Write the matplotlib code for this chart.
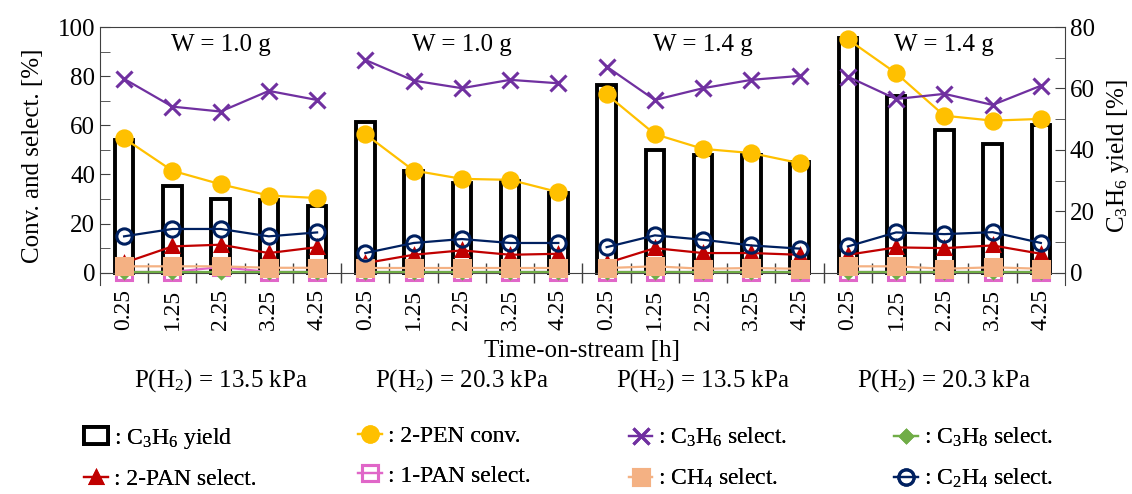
import matplotlib
matplotlib.use("Agg")
import matplotlib.pyplot as plt
from matplotlib.lines import Line2D
from matplotlib.patches import Patch
from matplotlib.ticker import FixedLocator

plt.rcParams['font.family'] = ['Liberation Serif', 'DejaVu Serif']
plt.rcParams['mathtext.fontset'] = 'custom'
plt.rcParams['mathtext.rm'] = 'Liberation Serif'
plt.rcParams['mathtext.it'] = 'Liberation Serif:italic'

# time-on-stream points, 5 per condition, 4 conditions
tos = ['0.25', '1.25', '2.25', '3.25', '4.25']
weights = ['W = 1.0 g', 'W = 1.0 g', 'W = 1.4 g', 'W = 1.4 g']
pressures = [r'P(H$_2$) = 13.5 kPa', r'P(H$_2$) = 20.3 kPa',
             r'P(H$_2$) = 13.5 kPa', r'P(H$_2$) = 20.3 kPa']

# right axis: C3H6 yield [%]
c3h6_yield = [43.3, 28.3, 24.0, 23.7, 21.6,
              49.2, 33.0, 29.2, 29.7, 25.9,
              61.1, 39.8, 38.3, 38.3, 36.2,
              76.3, 57.7, 46.5, 42.0, 48.0]
# left axis: conversion / selectivities [%]
pen_conv = [54.7, 41.5, 36.0, 31.4, 30.4,
            56.4, 41.6, 38.2, 37.8, 32.8,
            72.6, 56.4, 50.4, 48.7, 44.6,
            95.0, 81.2, 63.9, 61.9, 62.6]
c3h6_sel = [78.9, 67.6, 65.6, 74.0, 70.3,
            86.6, 78.2, 75.1, 78.5, 77.1,
            83.9, 70.3, 75.1, 78.5, 80.1,
            79.8, 70.7, 72.8, 68.3, 76.1]
c3h8_sel = [0.2] * 20
pan2_sel = [4.0, 10.7, 11.4, 8.0, 10.4,
            3.9, 7.3, 9.1, 7.3, 7.7,
            3.9, 10.0, 8.0, 8.0, 7.3,
            7.3, 10.3, 10.0, 11.1, 7.7]
pan1_sel = [0.3, 0.3, 2.3, 0.3, 0.3,
            0.3, 0.3, 0.3, 0.3, 0.3,
            0.3, 0.3, 0.3, 0.3, 0.3,
            0.3, 0.3, 0.3, 0.3, 0.3]
ch4_sel = [2.6, 2.6, 2.6, 2.0, 2.0,
           1.9, 1.9, 1.9, 1.9, 1.9,
           1.9, 2.6, 1.6, 1.9, 1.6,
           2.6, 2.6, 1.6, 2.2, 1.6]
c2h4_sel = [14.8, 17.8, 17.8, 14.8, 16.4,
            8.0, 12.1, 13.7, 12.1, 12.1,
            10.4, 15.2, 13.4, 11.1, 9.8,
            10.7, 16.4, 15.7, 16.5, 12.1]

xpos = list(range(20))

fig = plt.figure(figsize=(11.32, 4.94), dpi=100)
ax = fig.add_axes([0.0883, 0.4231, 0.8525, 0.5222])
ax2 = ax.twinx()

ax2.bar(xpos, c3h6_yield, width=0.38, facecolor='white', edgecolor='black', linewidth=2.8)

# style for each line series: (data, color, marker, size, face, zorder)
series = [
    (pan1_sel, '#E066C8', 's', 11, 'none', 3),
    (c3h8_sel, '#70AD47', 'D', 6, '#70AD47', 4),
    (pan2_sel, '#C00000', '^', 9, '#C00000', 5),
    (ch4_sel, '#F4B183', 's', 11, '#F4B183', 6),
    (c2h4_sel, '#002060', 'o', 11, 'none', 7),
    (pen_conv, '#FFC000', 'o', 11, '#FFC000', 8),
    (c3h6_sel, '#7030A0', 'x', 11, '#7030A0', 9),
]
for data, col, mk, ms, mfc, z in series:
    for g in range(4):
        sl = slice(g * 5, g * 5 + 5)
        ax.plot(xpos[sl], data[sl], color=col, lw=1.6, marker=mk, ms=ms,
                mfc=mfc, mec=col, mew=2.2, zorder=z)

ax.set_zorder(ax2.get_zorder() + 1)
ax.patch.set_visible(False)

ax.set_xlim(-0.5, 19.5)
ax.set_ylim(-5, 100)
ax2.set_ylim(-4, 80)

ax.spines['bottom'].set_position(('data', 0))
for sp in ax.spines.values():
    sp.set_color('#404040')
ax.set_xticks(xpos)
ax.set_xticklabels(tos * 4, rotation=90, fontsize=17)
ax.xaxis.set_minor_locator(FixedLocator([i + 0.5 for i in range(19)]))
ax.tick_params(axis='x', which='major', length=0, pad=12)
ax.tick_params(axis='x', which='minor', direction='inout', length=14, width=1, color='#404040')

ax.set_yticks([0, 20, 40, 60, 80, 100])
ax.yaxis.set_minor_locator(FixedLocator([10, 30, 50, 70, 90]))
ax.tick_params(axis='y', which='both', direction='in', length=7, labelsize=18, color='#404040')

ax2.set_yticks([0, 20, 40, 60, 80])
ax2.yaxis.set_minor_locator(FixedLocator([10, 30, 50, 70]))
ax2.tick_params(axis='y', which='both', direction='in', length=7, labelsize=18, color='#404040')
for sp in ax2.spines.values():
    sp.set_visible(False)

ax.set_ylabel('Conv. and select. [%]', fontsize=18, labelpad=10)
ax2.set_ylabel(r'$\mathrm{C_3H_6}$ yield [%]', fontsize=18, labelpad=7)

trans = ax.get_xaxis_transform()
for g in range(4):
    cx = g * 5 + 2
    ax.text(cx, 0.93, weights[g], transform=trans, ha='center', va='center', fontsize=18)
    ax.text(cx, -0.372, pressures[g], transform=trans, ha='center', va='center', fontsize=18)
ax.text(9.5, -0.255, 'Time-on-stream [h]', transform=trans, ha='center', va='center', fontsize=18)

# legend, built column by column
def mk_handle(col, mk, ms, mfc):
    return Line2D([], [], color=col, lw=1.6, marker=mk, ms=ms, mfc=mfc, mec=col, mew=2.2)

h_yield = Patch(facecolor='white', edgecolor='black', linewidth=2.8)
cols = [
    ([h_yield, mk_handle('#C00000', '^', 9, '#C00000')],
     [r': $\mathrm{C_3H_6}$ yield', ': 2-PAN select.']),
    ([mk_handle('#FFC000', 'o', 11, '#FFC000'), mk_handle('#E066C8', 's', 11, 'none')],
     [': 2-PEN conv.', ': 1-PAN select.']),
    ([mk_handle('#7030A0', 'x', 11, '#7030A0'), mk_handle('#F4B183', 's', 11, '#F4B183')],
     [r': $\mathrm{C_3H_6}$ select.', r': $\mathrm{CH_4}$ select.']),
    ([mk_handle('#70AD47', 'D', 6, '#70AD47'), mk_handle('#002060', 'o', 11, 'none')],
     [r': $\mathrm{C_3H_8}$ select.', r': $\mathrm{C_2H_4}$ select.']),
]
xs = [0.0745, 0.3165, 0.5555, 0.790]
for (hs, ls), x0 in zip(cols, xs):
    leg = fig.legend(hs, ls, loc='upper left', bbox_to_anchor=(x0, 0.138),
                     frameon=False, fontsize=17, handlelength=1.0, handletextpad=0.25,
                     labelspacing=0.75, borderaxespad=0, borderpad=0)
    fig.add_artist(leg)

fig.savefig('out.png', dpi=100)
